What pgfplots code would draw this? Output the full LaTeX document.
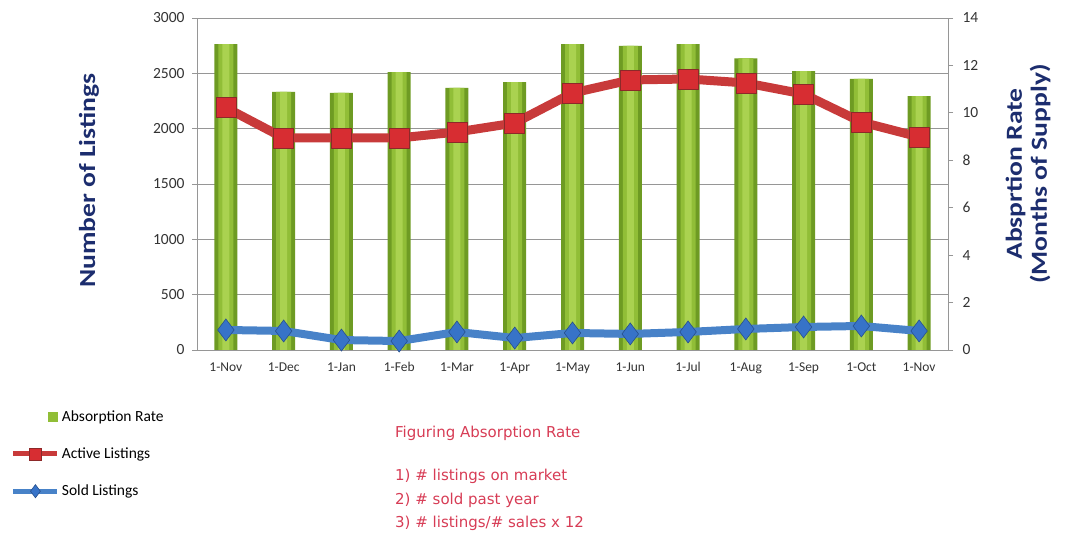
\documentclass[border=0pt]{standalone}
\usepackage{fontspec}
\setmainfont{Carlito}
\newfontfamily\labelfont[FakeStretch=1.2]{Carlito}
\newfontfamily\handfont{DejaVu Sans}
\usepackage{pgfplots}
\usepackage{pgfplotstable}
\pgfplotsset{compat=1.18}

\definecolor{axgray}{RGB}{150,150,150}
\definecolor{navy}{RGB}{28,45,110}
\definecolor{barlight}{RGB}{170,210,80}
\definecolor{barmid}{RGB}{145,190,55}
\definecolor{baredge}{RGB}{110,155,35}
\definecolor{redline}{RGB}{200,58,58}
\definecolor{redmark}{RGB}{215,45,50}
\definecolor{blueline}{RGB}{72,130,200}
\definecolor{bluemark}{RGB}{55,115,200}
\definecolor{hand}{RGB}{215,60,85}

% months of supply (bars), active and sold listings (lines)
\pgfplotstableread{
x  abs   active sold
0  12.90 2190   181
1  10.88 1916   172
2  10.84 1916    90
3  11.72 1916    81
4  11.05 1970   163
5  11.30 2051   108
6  12.90 2322   154
7  12.82 2440   145
8  12.90 2449   163
9  12.30 2413   190
10 11.76 2313   208
11 11.43 2060   217
12 10.71 1925   172
}\datatable

\pgfplotsset{
  twin/.style={
    at={(197bp,189bp)}, anchor=south west,
    width=751bp, height=332bp, scale only axis,
    xmin=-0.5, xmax=12.5,
    /pgf/number format/assume math mode=true,
    /pgf/number format/1000 sep={},
    ticklabel style={color=black!80},
    xticklabel style={font=\fontsize{13.5bp}{16bp}\selectfont},
    yticklabel style={font=\fontsize{15.5bp}{18bp}\selectfont},
    axis line style={axgray, line width=0.8pt},
    tick style={axgray, line width=0.8pt},
    tick align=outside, major tick length=5bp,
    label style={font=\labelfont\bfseries\fontsize{23bp}{25bp}\selectfont, color=navy},
  },
}

\begin{document}
\begin{tikzpicture}
\useasboundingbox (0,0) rectangle (1068bp,539bp);

% left axis with grid
\begin{axis}[twin,
  ymin=0, ymax=3000, ytick={0,500,...,3000},
  xtick={0,...,12},
  xticklabels={1-Nov,1-Dec,1-Jan,1-Feb,1-Mar,1-Apr,1-May,1-Jun,1-Jul,1-Aug,1-Sep,1-Oct,1-Nov},
  xtick style={draw=none},
  ymajorgrids, grid style={axgray, line width=0.8pt},
  axis x line*=bottom, axis y line*=left,
  yticklabel style={xshift=-4bp},
  xticklabel style={yshift=-4bp},
  ylabel={Number of Listings},
  ylabel style={at={(axis description cs:-0.1438,0.51)}, anchor=center},
]
\end{axis}

% right axis with bars
\begin{axis}[twin,
  ymin=0, ymax=14, ytick={0,2,...,14},
  axis x line=none, axis y line*=right,
  yticklabel style={xshift=6bp},
  ylabel={Absprtion Rate\\(Months of Supply)},
  ylabel style={align=center, at={(axis description cs:1.1065,0.53)}, anchor=center},
]
\addplot[ybar, bar width=23bp, draw=none, fill=baredge]
  table[x=x, y=abs] {\datatable};
\addplot[ybar, bar width=15bp, bar shift=0pt, draw=none, fill=barmid]
  table[x=x, y=abs] {\datatable};
\addplot[ybar, bar width=7bp, bar shift=0pt, draw=none, fill=barlight]
  table[x=x, y=abs] {\datatable};
\end{axis}

% lines on the listings scale
\begin{axis}[twin,
  ymin=0, ymax=3000, hide axis,
  legend style={at={(axis description cs:-0.252,-0.17)}, anchor=north west,
    draw=none, fill=none, font=\fontsize{15.5bp}{18bp}\selectfont,
    row sep=21bp, cells={anchor=west}},
  legend image code/.code={
    \draw[mark repeat=2, mark phase=2, #1, line width=5bp,
      every mark/.append style={scale=0.6}]
      plot coordinates {(0bp,0bp) (22bp,0bp) (44bp,0bp)};},
]
\addlegendimage{legend image code/.code={\fill[barmid] (35bp,-4.5bp) rectangle (44bp,4.5bp);}}
\addlegendentry{Absorption Rate}
\addplot[redline, line width=9bp, mark=square*,
  mark options={fill=redmark, draw=redline!70!black, line width=0.6pt, mark size=10bp}]
  table[x=x, y=active] {\datatable};
\addlegendentry{Active Listings}
\addplot[blueline, line width=8bp, mark=diamond*,
  mark options={fill=bluemark, draw=bluemark!70!black, line width=0.6pt, mark size=11bp}]
  table[x=x, y=sold] {\datatable};
\addlegendentry{Sold Listings}
\end{axis}

\begin{scope}[every node/.style={anchor=west, text=hand, inner sep=0pt,
    font=\handfont\fontsize{15bp}{17bp}\selectfont}]
\node at (395bp,106bp) {Figuring Absorption Rate};
\node at (395bp,63bp) {1) \# listings on market};
\node at (395bp,39bp) {2) \# sold past year};
\node at (395bp,16bp) {3) \# listings/\# sales x 12};
\end{scope}
\end{tikzpicture}
\end{document}
